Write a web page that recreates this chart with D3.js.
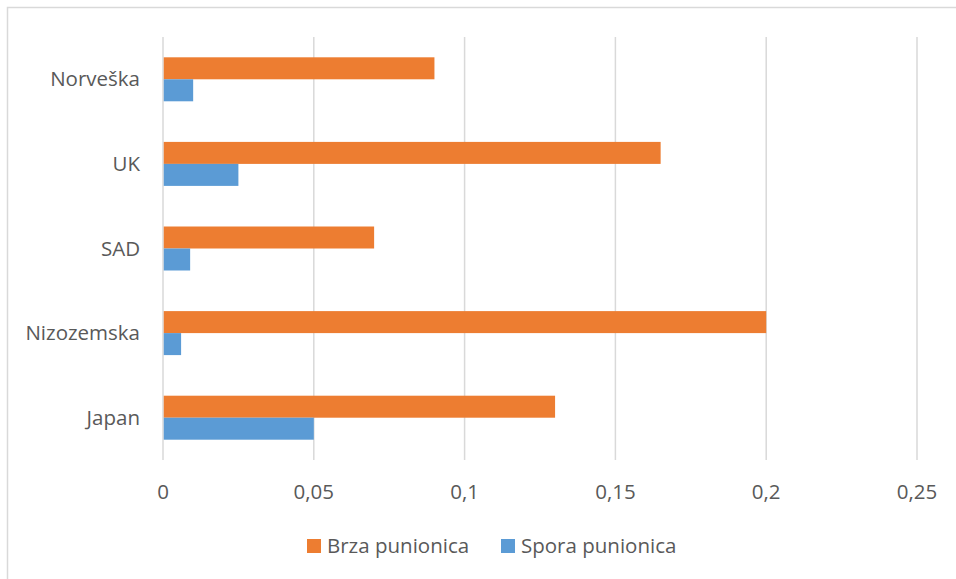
<!DOCTYPE html>
<html>
<head>
<meta charset="utf-8">
<script src="https://cdn.jsdelivr.net/npm/d3@7"></script>
<style>
  body { margin: 0; background: #fff; }
  text { font-family: "Open Sans", sans-serif; fill: #595959; }
</style>
</head>
<body>
<div id="chart"></div>
<script>
// data
var categories = ["Norveška", "UK", "SAD", "Nizozemska", "Japan"];
var seriesNames = ["Brza punionica", "Spora punionica"];
var brzaValues = [0.09, 0.165, 0.07, 0.2, 0.13];
var sporaValues = [0.01, 0.025, 0.009, 0.006, 0.05];
var tickValues = [0, 0.05, 0.1, 0.15, 0.2, 0.25];
var tickLabels = ["0", "0,05", "0,1", "0,15", "0,2", "0,25"];
var colors = ["#ED7D31", "#5B9BD5"];

var width = 956, height = 579;
var margin = {top: 37, right: 39, bottom: 119, left: 163};
var fontSize = "20.5px";

var svg = d3.select("#chart")
  .append("svg")
    .attr("width", width)
    .attr("height", height);

// outer frame (only top and left edges fall inside the picture)
svg.append("rect")
  .attr("x", 7.5)
  .attr("y", 7.5)
  .attr("width", width)
  .attr("height", height)
  .attr("fill", "none")
  .attr("stroke", "#d9d9d9")
  .attr("stroke-width", 1.5);

var x = d3.scaleLinear()
  .domain([0, 0.25])
  .range([margin.left, width - margin.right]);

var y = d3.scaleBand()
  .domain(categories)
  .range([margin.top, height - margin.bottom])
  .paddingInner(0.48)
  .paddingOuter(0.24);

var ySub = d3.scaleBand()
  .domain(seriesNames)
  .range([0, y.bandwidth()]);

// gridlines
svg.append("g")
  .selectAll("line")
  .data(tickValues)
  .enter()
  .append("line")
    .attr("x1", function (d) { return x(d); })
    .attr("x2", function (d) { return x(d); })
    .attr("y1", margin.top)
    .attr("y2", height - margin.bottom)
    .attr("stroke", "#d9d9d9")
    .attr("stroke-width", 1.5);

// bars
var rows = categories.map(function (c, i) {
  return {cat: c, vals: [brzaValues[i], sporaValues[i]]};
});

var groups = svg.append("g")
  .selectAll("g")
  .data(rows)
  .enter()
  .append("g")
    .attr("transform", function (d) { return "translate(0," + y(d.cat) + ")"; });

groups.selectAll("rect")
  .data(function (d) { return d.vals.map(function (v, j) { return {name: seriesNames[j], v: v, j: j}; }); })
  .enter()
  .append("rect")
    .attr("x", x(0) + 0.75)
    .attr("y", function (d) { return ySub(d.name); })
    .attr("width", function (d) { return x(d.v) - x(0) - 0.75; })
    .attr("height", ySub.bandwidth())
    .attr("fill", function (d) { return colors[d.j]; });

// category labels
svg.append("g")
  .selectAll("text")
  .data(categories)
  .enter()
  .append("text")
    .attr("x", 140)
    .attr("y", function (d) { return y(d) + y.bandwidth() / 2; })
    .attr("dy", "0.35em")
    .attr("text-anchor", "end")
    .style("font-size", fontSize)
    .text(function (d) { return d; });

// x tick labels
svg.append("g")
  .selectAll("text")
  .data(tickValues)
  .enter()
  .append("text")
    .attr("x", function (d) { return x(d); })
    .attr("y", 492)
    .attr("dy", "0.35em")
    .attr("text-anchor", "middle")
    .style("font-size", fontSize)
    .text(function (d, i) { return tickLabels[i]; });

// legend
var legendX = [307, 501];
var legend = svg.append("g")
  .selectAll("g")
  .data(seriesNames)
  .enter()
  .append("g")
    .attr("transform", function (d, i) { return "translate(" + legendX[i] + ",539)"; });

legend.append("rect")
  .attr("width", 14)
  .attr("height", 14)
  .attr("fill", function (d, i) { return colors[i]; });

legend.append("text")
  .attr("x", 20)
  .attr("y", 7)
  .attr("dy", "0.35em")
  .style("font-size", fontSize)
  .text(function (d) { return d; });
</script>
</body>
</html>
